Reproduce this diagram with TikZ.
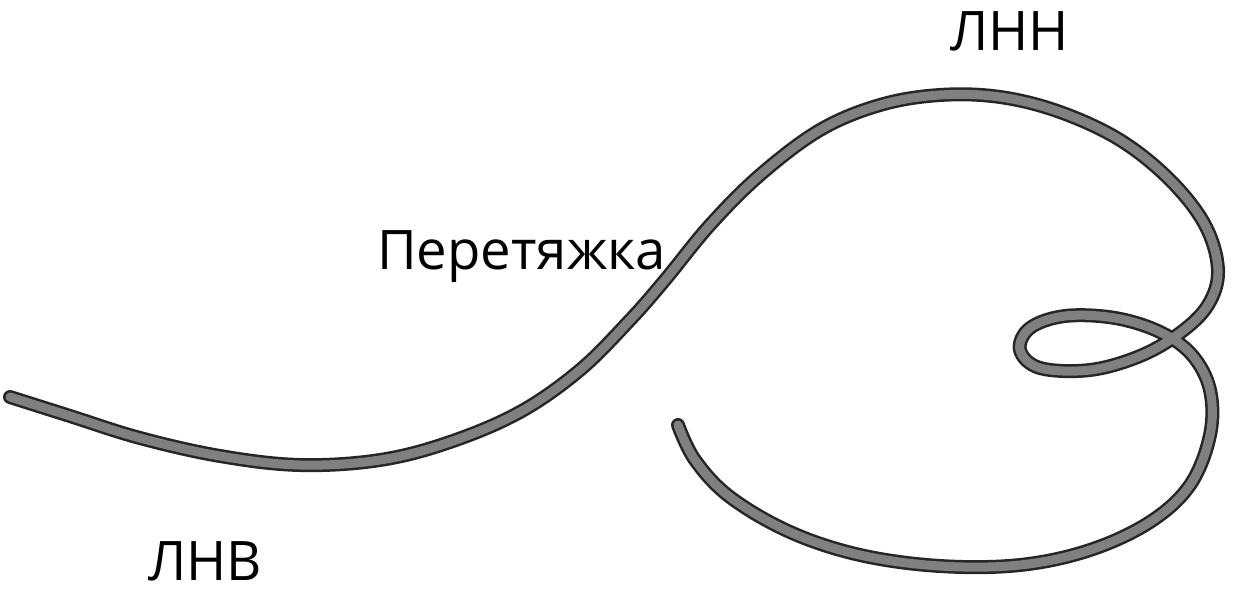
\documentclass[tikz,border=0pt]{standalone}
\usepackage{fontspec}
\setmainfont{Open Sans}
\begin{document}
\begin{tikzpicture}[x=1pt,y=-1pt,
  lbl/.style={font=\fontsize{54.5}{54.5}\selectfont, inner sep=0pt, anchor=base west},
  rope/.style={line cap=round, line join=round}]
\useasboundingbox (0,0) rectangle (1233,600);
\def\ropepath{plot[smooth, tension=0.6] coordinates {(10,397) (70,416) (140,438) (220,456) (300,465) (380,460) (450,442) (520,412) (580,370) (630,320) (665,280) (710,225) (760,175) (820,130) (880,105) (940,95) (1000,97) (1060,112) (1120,140) (1170,180) (1205,225) (1218,270) (1208,305) (1180,333) (1140,356) (1090,370) (1040,368) (1020,350) (1030,328) (1065,316) (1115,318) (1160,332) (1192,355) (1210,390) (1210,435) (1190,485) (1150,522) (1090,550) (1020,565) (940,566) (860,555) (790,532) (730,497) (695,460) (678,425)}}
\draw[rope, line width=14pt, black!85] \ropepath;
\draw[rope, line width=9pt, black!50] \ropepath;
\node[lbl] (lnn) at (950,50) {ЛНН};
\node[lbl] (pr) at (377,269) {Перетяжка};
\node[lbl] (lnv) at (148,580) {ЛНВ};
\end{tikzpicture}
\end{document}
